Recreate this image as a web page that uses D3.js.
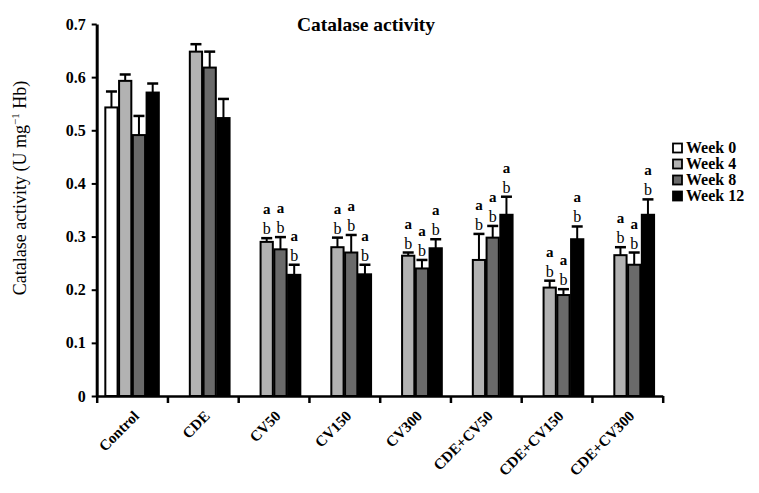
<!DOCTYPE html>
<html><head><meta charset="utf-8">
<script src="https://cdn.jsdelivr.net/npm/d3@7"></script>
<style>
body{margin:0;background:#fff}
svg{display:block}
text{font-family:"Liberation Serif","Times New Roman",serif}
</style>
</head><body><svg id="c" width="759" height="493"></svg>
<script>
const categories = ["Control","CDE","CV50","CV150","CV300","CDE+CV50","CDE+CV150","CDE+CV300"];
const weeks = ["Week 0","Week 4","Week 8","Week 12"];
const week0  = [0.543, null, null, null, null, null, null, null];
const week4  = [0.593, 0.648, 0.290, 0.280, 0.264, 0.256, 0.204, 0.265];
const week8  = [0.491, 0.618, 0.276, 0.270, 0.240, 0.298, 0.190, 0.247];
const week12 = [0.571, 0.523, 0.228, 0.229, 0.278, 0.341, 0.295, 0.341];
const err0  = [0.030, null, null, null, null, null, null, null];
const err4  = [0.012, 0.014, 0.007, 0.018, 0.006, 0.049, 0.013, 0.015];
const err8  = [0.036, 0.030, 0.023, 0.033, 0.016, 0.022, 0.011, 0.023];
const err12 = [0.017, 0.036, 0.019, 0.018, 0.017, 0.034, 0.024, 0.029];
const sigTop    = ["", "", "a", "a", "a", "a", "a", "a"];
const sigBottom = ["", "", "b", "b", "b", "b", "b", "b"];
const yTicks = [0, 0.1, 0.2, 0.3, 0.4, 0.5, 0.6, 0.7];
const fills = ["#ffffff", "#b2b2b2", "#6a6a6a", "#000000"];

const values = [week0, week4, week8, week12];
const errs = [err0, err4, err8, err12];

const svg = d3.select("#c");
const X0 = 96.7, X1 = 662.7, Y0 = 396, Y1 = 24;
const y = d3.scaleLinear().domain([0, 0.7]).range([Y0, Y1]);
const x = d3.scaleBand().domain(categories).range([X0, X1]).paddingInner(0.2226).paddingOuter(0.1113);
const xw = d3.scaleBand().domain(weeks).range([0, x.bandwidth()]);
const xb = d3.scaleLinear().domain([0, categories.length]).range([X0, X1]);

const rows = [];
categories.forEach((c, i) => weeks.forEach((w, j) => {
  if (values[j][i] != null) rows.push({c, w, j, v: values[j][i], e: errs[j][i], i});
}));

const g = svg.append("g");
g.selectAll("rect.bar").data(rows).join("rect")
  .attr("x", d => x(d.c) + xw(d.w) + 0.75)
  .attr("y", d => y(d.v))
  .attr("width", xw.bandwidth() - 1.5)
  .attr("height", d => y(0) - y(d.v))
  .attr("fill", d => fills[d.j])
  .attr("stroke", "#000").attr("stroke-width", 2);

const cx = d => x(d.c) + xw(d.w) + xw.bandwidth() / 2;
g.selectAll("line.err").data(rows).join("line")
  .attr("x1", cx).attr("x2", cx)
  .attr("y1", d => y(d.v)).attr("y2", d => y(d.v + d.e))
  .attr("stroke", "#000").attr("stroke-width", 2);
g.selectAll("line.cap").data(rows).join("line")
  .attr("x1", d => cx(d) - 5.5).attr("x2", d => cx(d) + 5.5)
  .attr("y1", d => y(d.v + d.e)).attr("y2", d => y(d.v + d.e))
  .attr("stroke", "#000").attr("stroke-width", 2.5);

const sig = rows.filter(d => sigBottom[d.i]);
g.selectAll("text.b").data(sig).join("text")
  .attr("x", cx).attr("y", d => y(d.v + d.e) - 4)
  .attr("text-anchor", "middle").attr("font-size", 16).attr("fill", "#000")
  .text(d => sigBottom[d.i]);
g.selectAll("text.a").data(sig).join("text")
  .attr("x", cx).attr("y", d => y(d.v + d.e) - 24)
  .attr("text-anchor", "middle").attr("font-size", 15).attr("font-weight", "bold").attr("fill", "#000")
  .text(d => sigTop[d.i]);

const ya = svg.append("g").attr("transform", `translate(${X0},0)`)
  .call(d3.axisLeft(y).tickValues(yTicks).tickSize(5).tickSizeOuter(0)
    .tickFormat(d => d === 0 ? "0" : d3.format(".1f")(d)));
ya.select(".domain").attr("stroke-width", 3);
ya.selectAll(".tick line").attr("stroke-width", 2);
ya.selectAll(".tick text").attr("font-family", "Liberation Serif").attr("font-size", 16)
  .attr("font-weight", "bold").attr("x", -11).attr("fill", "#000");

const xa = svg.append("g").attr("transform", `translate(0,${Y0})`)
  .call(d3.axisBottom(xb).tickValues(d3.range(categories.length + 1)).tickSize(7).tickSizeOuter(0).tickFormat(""));
xa.select(".domain").attr("stroke-width", 2.5);
xa.selectAll(".tick line").attr("stroke-width", 2.5);

// category labels via a band axis, rotated -45°
const xc = svg.append("g").attr("transform", `translate(0,${Y0})`)
  .call(d3.axisBottom(x).tickSize(0).tickPadding(0));
xc.select(".domain").remove();
xc.selectAll(".tick text")
  .attr("font-family", "Liberation Serif").attr("font-size", 15).attr("font-weight", "bold").attr("fill", "#000")
  .attr("text-anchor", "end").attr("dy", null).attr("y", 0).attr("x", 0)
  .attr("transform", "translate(8,21) rotate(-45)");

svg.append("text").attr("x", 366).attr("y", 31).attr("text-anchor", "middle")
  .attr("font-size", 19.5).attr("font-weight", "bold").attr("fill", "#000").text("Catalase activity");

const yl = svg.append("text").attr("transform", "translate(26,188) rotate(-90)")
  .attr("text-anchor", "middle").attr("font-size", 18).attr("fill", "#000");
yl.append("tspan").text("Catalase activity (U mg");
yl.append("tspan").attr("dy", -7).attr("font-size", 11).text("\u22121");
yl.append("tspan").attr("dy", 7).text(" Hb)");

const lg = svg.append("g").selectAll("g").data(weeks).join("g")
  .attr("transform", (d, i) => `translate(673,${148 + i * 16})`);
lg.append("rect").attr("x", 0).attr("y", -4.5).attr("width", 9).attr("height", 9)
  .attr("fill", (d, i) => fills[i]).attr("stroke", "#000").attr("stroke-width", 1.8);
lg.append("text").attr("x", 13).attr("y", 5).attr("font-size", 16).attr("font-weight", "bold").attr("fill", "#000").text(d => d);
</script></body></html>
